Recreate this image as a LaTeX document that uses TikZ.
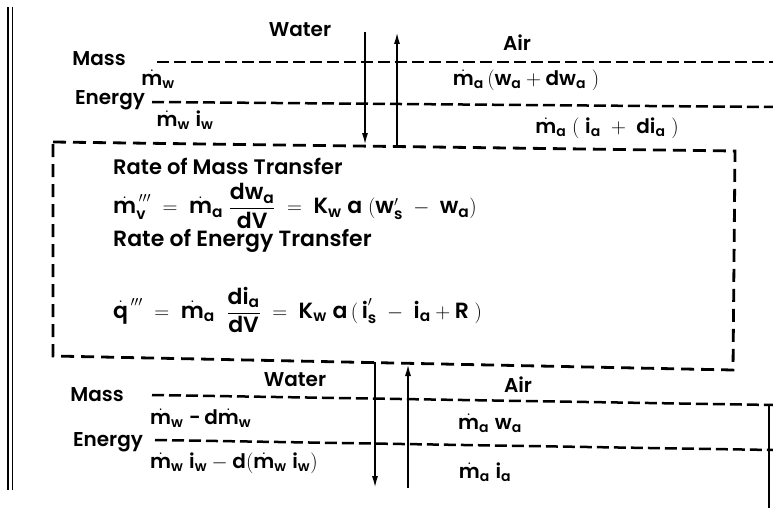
\documentclass[tikz,border=0pt]{standalone}
\usepackage{amsmath}
\usepackage{fontspec}
\setmainfont{Poppins}[BoldFont={Poppins SemiBold}]
\usetikzlibrary{arrows.meta}
\newcommand\vtx[1]{\text{#1}}
\newcommand\mdt{\dot{\vtx{m}}}
\begin{document}
\begin{tikzpicture}[x=1pt,y=-1pt,
  lbl/.style={font=\fontsize{20}{23}\selectfont\bfseries, inner sep=0pt},
  eq/.style={font=\fontsize{22}{25}\selectfont\bfseries, inner sep=0pt, anchor=west},
  dl/.style={line width=2.5pt, dash pattern=on 12pt off 5pt},
  boxl/.style={line width=2.8pt, dash pattern=on 13pt off 7pt},
  arr/.style={line width=1.8pt, -{Latex[length=12pt,width=6pt]}}]
\useasboundingbox (0,0) rectangle (773,508);
% scan edge
\draw[line width=2.2pt] (8,7) -- (8,490);
\draw[line width=1.6pt] (12.5,7) -- (12.5,490);
% ---- top ----
\node[lbl] (wtop) at (300,30) {Water};
\node[lbl] (atop) at (517,43) {Air};
\node[lbl] (mtop) at (99,59) {Mass};
\node[lbl] (etop) at (110,100) {Energy};
\node[lbl] (mw) at (158,79) {$\mdt_{\vtx{w}}$};
\node[lbl] (mwiw) at (185,120) {$\mdt_{\vtx{w}}\;\vtx{i}_{\vtx{w}}$};
\node[lbl] (madw) at (526,80) {$\mdt_{\vtx{a}}\,(\vtx{w}_{\vtx{a}} + \vtx{dw}_{\vtx{a}}\;)$};
\node[lbl] (madi) at (607,128) {$\mdt_{\vtx{a}}\;(\;\vtx{i}_{\vtx{a}} \;+\; \vtx{di}_{\vtx{a}}\;)$};
\coordinate (mt1) at (157,62); \coordinate (mt2) at (773,62);
\coordinate (et1) at (152,102); \coordinate (et2) at (773,107);
\draw[dl] (mt1) -- (mt2);
\draw[dl] (et1) -- (et2);
% ---- box ----
\coordinate (b1) at (53,142); \coordinate (b2) at (735,151);
\coordinate (b3) at (733,370); \coordinate (b4) at (53,356);
\draw[boxl] (b1) -- (b2) -- (b3) -- (b4) -- cycle;
\coordinate (dtop) at (365,32); \coordinate (dbot) at (365,145);
\coordinate (ubot) at (397,146); \coordinate (utop) at (397,32);
\draw[arr] (dtop) -- (dbot);
\draw[arr] (ubot) -- (utop);
\node[eq, font=\fontsize{21}{24}\selectfont\bfseries] (t1) at (113,166) {Rate of Mass Transfer};
\node[eq] (e1) at (113,206) {$\mdt_{\vtx{v}}^{\,\prime\prime\prime} \;=\; \mdt_{\vtx{a}}\;\dfrac{\vtx{dw}_{\vtx{a}}}{\vtx{dV}} \;=\; \vtx{K}_{\vtx{w}}\;\vtx{a}\;(\vtx{w}'_{\vtx{s}} \;-\; \vtx{w}_{\vtx{a}})$};
\node[eq] (t2) at (113,241) {Rate of Energy Transfer};
\node[eq] (e2) at (113,310) {$\dot{\vtx{q}}^{\,\prime\prime\prime} \;=\; \mdt_{\vtx{a}}\;\;\dfrac{\vtx{di}_{\vtx{a}}}{\vtx{dV}} \;=\; \vtx{K}_{\vtx{w}}\;\vtx{a}\,(\,\vtx{i}'_{\vtx{s}} \;-\; \vtx{i}_{\vtx{a}} + \vtx{R}\;)$};
% ---- bottom ----
\node[lbl] (wbot) at (295,380) {Water};
\node[lbl] (abot) at (518,385) {Air};
\node[lbl] (mbot) at (97,395) {Mass};
\node[lbl] (ebot) at (108,442) {Energy};
\node[eq, font=\fontsize{20}{23}\selectfont\bfseries] (mwd) at (150,418) {$\mdt_{\vtx{w}}\;\text{-}\,\vtx{d}\mdt_{\vtx{w}}$};
\node[eq, font=\fontsize{20}{23}\selectfont\bfseries] (mwiwd) at (150,463) {$\mdt_{\vtx{w}}\;\vtx{i}_{\vtx{w}} - \vtx{d}(\mdt_{\vtx{w}}\;\vtx{i}_{\vtx{w}})$};
\node[lbl] (mawa) at (490,423) {$\mdt_{\vtx{a}}\;\vtx{w}_{\vtx{a}}$};
\node[lbl] (maia) at (485,472) {$\mdt_{\vtx{a}}\;\vtx{i}_{\vtx{a}}$};
\coordinate (mb1) at (152,395); \coordinate (mb2) at (773,405);
\coordinate (eb1) at (155,440); \coordinate (eb2) at (773,450);
\draw[dl] (mb1) -- (mb2);
\draw[dl] (eb1) -- (eb2);
\coordinate (dbt) at (375,362); \coordinate (dbb) at (375,488);
\coordinate (ubb) at (408,488); \coordinate (ubt) at (408,364);
\draw[arr] (dbt) -- (dbb);
\draw[arr] (ubb) -- (ubt);
\coordinate (rv1) at (769,405); \coordinate (rv2) at (769,508);
\draw[line width=1.8pt] (rv1) -- (rv2);
\end{tikzpicture}
\end{document}
